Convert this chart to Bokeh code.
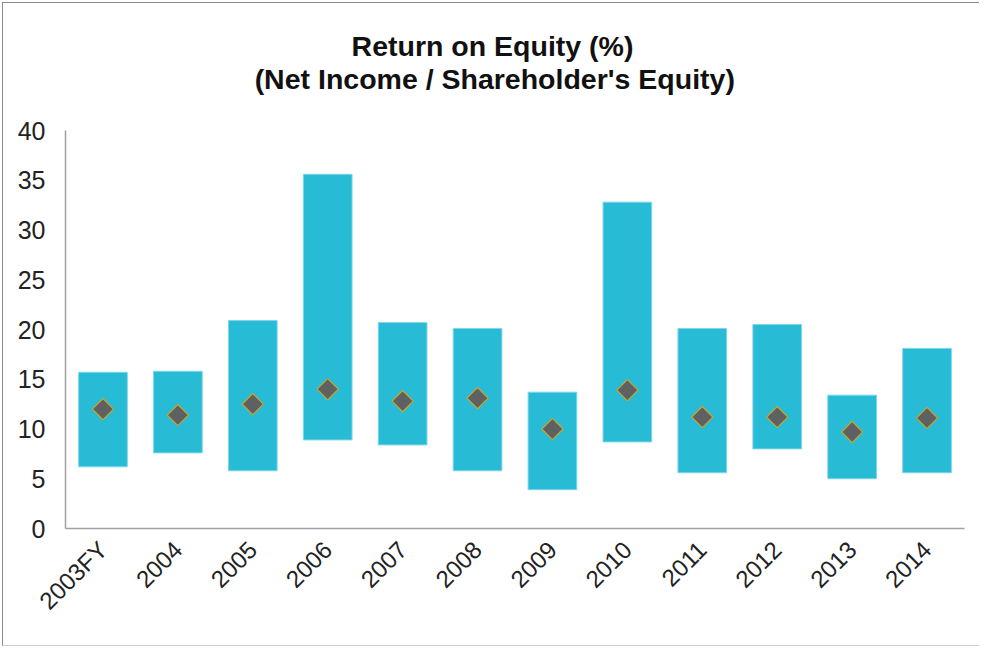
import math
from bokeh.plotting import figure
from bokeh.models import FactorRange, Range1d, Label, ColumnDataSource
from bokeh.embed import file_html
from bokeh.resources import INLINE

years = ["2003FY", "2004", "2005", "2006", "2007", "2008", "2009", "2010", "2011", "2012", "2013", "2014"]
roe_high = [15.7, 15.8, 20.9, 35.6, 20.7, 20.1, 13.7, 32.8, 20.1, 20.5, 13.4, 18.1]
roe_low = [6.2, 7.6, 5.8, 8.9, 8.4, 5.8, 3.9, 8.7, 5.6, 8.0, 5.0, 5.6]
roe_mid = [12.0, 11.4, 12.5, 14.0, 12.8, 13.1, 10.0, 13.9, 11.2, 11.2, 9.7, 11.1]
y_ticks = [0, 5, 10, 15, 20, 25, 30, 35, 40]
title_lines = ["Return on Equity (%)", "(Net Income / Shareholder's Equity)"]

src = ColumnDataSource(dict(year=years, high=roe_high, low=roe_low, mid=roe_mid))

# frame extends up to the canvas top so the two-line title can sit inside it;
# the axis line itself is bounded to 0..40
Y_MAX = 40
y_top = Y_MAX * 525 / 398

p = figure(
    width=977, height=644,
    x_range=FactorRange(*years, range_padding=0),
    y_range=Range1d(0, y_top),
    output_backend="svg", toolbar_location=None,
    min_border_left=62, min_border_right=16, min_border_top=0, min_border_bottom=119,
    styles={"margin-left": "2px", "margin-top": "2px",
            "border-left": "1px solid #8a8a8a", "border-top": "1px solid #8a8a8a",
            "border-bottom": "1px solid #cfcfcf"},
)
p.outline_line_color = None
p.xgrid.grid_line_color = None
p.ygrid.grid_line_color = None

p.vbar(x="year", top="high", bottom="low", width=0.65, source=src,
       fill_color="#27bbd6", line_color="#7fd6e8", line_width=1)
p.scatter(x="year", y="mid", source=src, marker="square", angle=math.pi / 4, size=15,
          fill_color="#5f6062", line_color="#c9a72a", line_width=1.2)

for ax in (p.xaxis[0], p.yaxis[0]):
    ax.axis_line_color = "#a0a0a0"
    ax.axis_line_width = 1.5
    ax.major_tick_line_color = None
    ax.minor_tick_line_color = None
    ax.major_label_text_font = "Liberation Sans"
    ax.major_label_text_color = "#222222"

p.yaxis.ticker = y_ticks
p.yaxis.bounds = (0, Y_MAX)
p.yaxis.major_label_text_font_size = "25px"
p.yaxis.major_label_standoff = 14
p.xaxis.major_label_text_font_size = "24px"
p.xaxis.major_label_orientation = math.pi / 4
p.xaxis.major_label_standoff = 11

title_x = [5.70, 5.73]
title_y = [48.5, 45.2]
for txt, tx, ty in zip(title_lines, title_x, title_y):
    p.add_layout(Label(x=tx, y=ty, text=txt, text_align="center", text_baseline="middle",
                       text_font="Liberation Sans", text_font_style="bold",
                       text_font_size="28.5px", text_color="#111111"))

open("out.html", "w").write(file_html(p, INLINE))
